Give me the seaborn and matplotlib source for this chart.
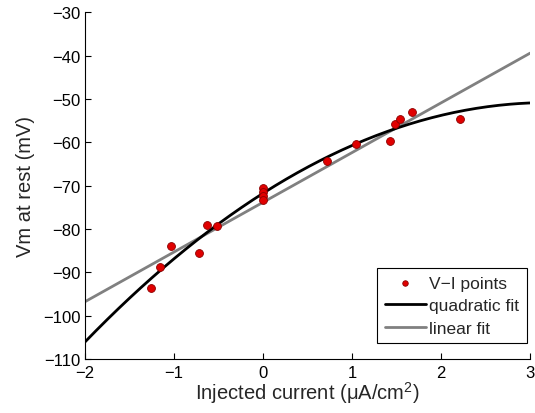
import numpy as np
import pandas as pd
import matplotlib
matplotlib.use("Agg")
import matplotlib.pyplot as plt
import seaborn as sns

# Injected current (uA/cm^2) and resting membrane potential (mV)
current = [-1.26, -1.16, -1.03, -0.72, -0.63, -0.52,
           0.0, 0.0, 0.0, 0.0,
           0.72, 1.04, 1.42, 1.48, 1.54, 1.67, 2.21]
vm_rest = [-93.5, -88.7, -84.0, -85.6, -79.0, -79.4,
           -70.6, -71.4, -72.3, -73.4,
           -64.4, -60.3, -59.7, -55.8, -54.6, -53.1, -54.7]

x_ticks = [-2, -1, 0, 1, 2, 3]
y_ticks = [-110, -100, -90, -80, -70, -60, -50, -40, -30]

sns.set_theme(style="ticks")
plt.rcParams["font.family"] = ["Liberation Sans", "DejaVu Sans"]
plt.rcParams["mathtext.fontset"] = "custom"
plt.rcParams["mathtext.rm"] = "Liberation Sans"

points = pd.DataFrame({"I": current, "V": vm_rest})

# Least-squares fits evaluated on the plotted current range
xfit = np.linspace(-2, 3, 200)
quad = np.polyval(np.polyfit(points["I"], points["V"], 2), xfit)
lin = np.polyval(np.polyfit(points["I"], points["V"], 1), xfit)
fits = pd.DataFrame({"I": xfit, "quad": quad, "lin": lin})

fig = plt.figure(figsize=(5.35, 4.14), dpi=100)
ax = fig.add_axes([0.159, 0.1304, 0.832, 0.8375])

sns.scatterplot(data=points, x="I", y="V", ax=ax, color="#e00000",
                edgecolor="#8b0000", linewidth=0.6, s=32, zorder=3,
                label="V\u2212I points")
sns.lineplot(data=fits, x="I", y="quad", ax=ax, color="black", lw=2,
             label="quadratic fit", zorder=2)
sns.lineplot(data=fits, x="I", y="lin", ax=ax, color="#808080", lw=2,
             label="linear fit", zorder=1)

def minus(v):
    return str(v).replace("-", "\u2212")

ax.set_xlim(-2, 3)
ax.set_ylim(-110, -30)
ax.set_xticks(x_ticks)
ax.set_yticks(y_ticks)
ax.set_xticklabels([minus(v) for v in x_ticks])
ax.set_yticklabels([minus(v) for v in y_ticks])
ax.tick_params(direction="in", length=4, width=0.8, labelsize=12,
               colors="black")
ax.tick_params(axis="x", pad=4)
ax.tick_params(axis="y", pad=3)
for side in ("top", "right"):
    ax.spines[side].set_visible(False)
for side in ("left", "bottom"):
    ax.spines[side].set_color("black")
    ax.spines[side].set_linewidth(0.8)

ax.set_xlabel("Injected current (\u03bcA/cm$^2$)", fontsize=14.5, labelpad=0)
ax.set_ylabel("Vm at rest (mV)", fontsize=14.5, labelpad=6)

leg = ax.legend(loc="lower right", bbox_to_anchor=(0.993, 0.045),
                fontsize=12.5, frameon=True, fancybox=False, framealpha=1,
                edgecolor="black", borderpad=0.45, handlelength=2.35,
                labelspacing=0.42, handletextpad=0.2, markerscale=0.7,
                borderaxespad=0.0)
leg.get_frame().set_linewidth(0.8)

fig.savefig("out.png", dpi=100)
